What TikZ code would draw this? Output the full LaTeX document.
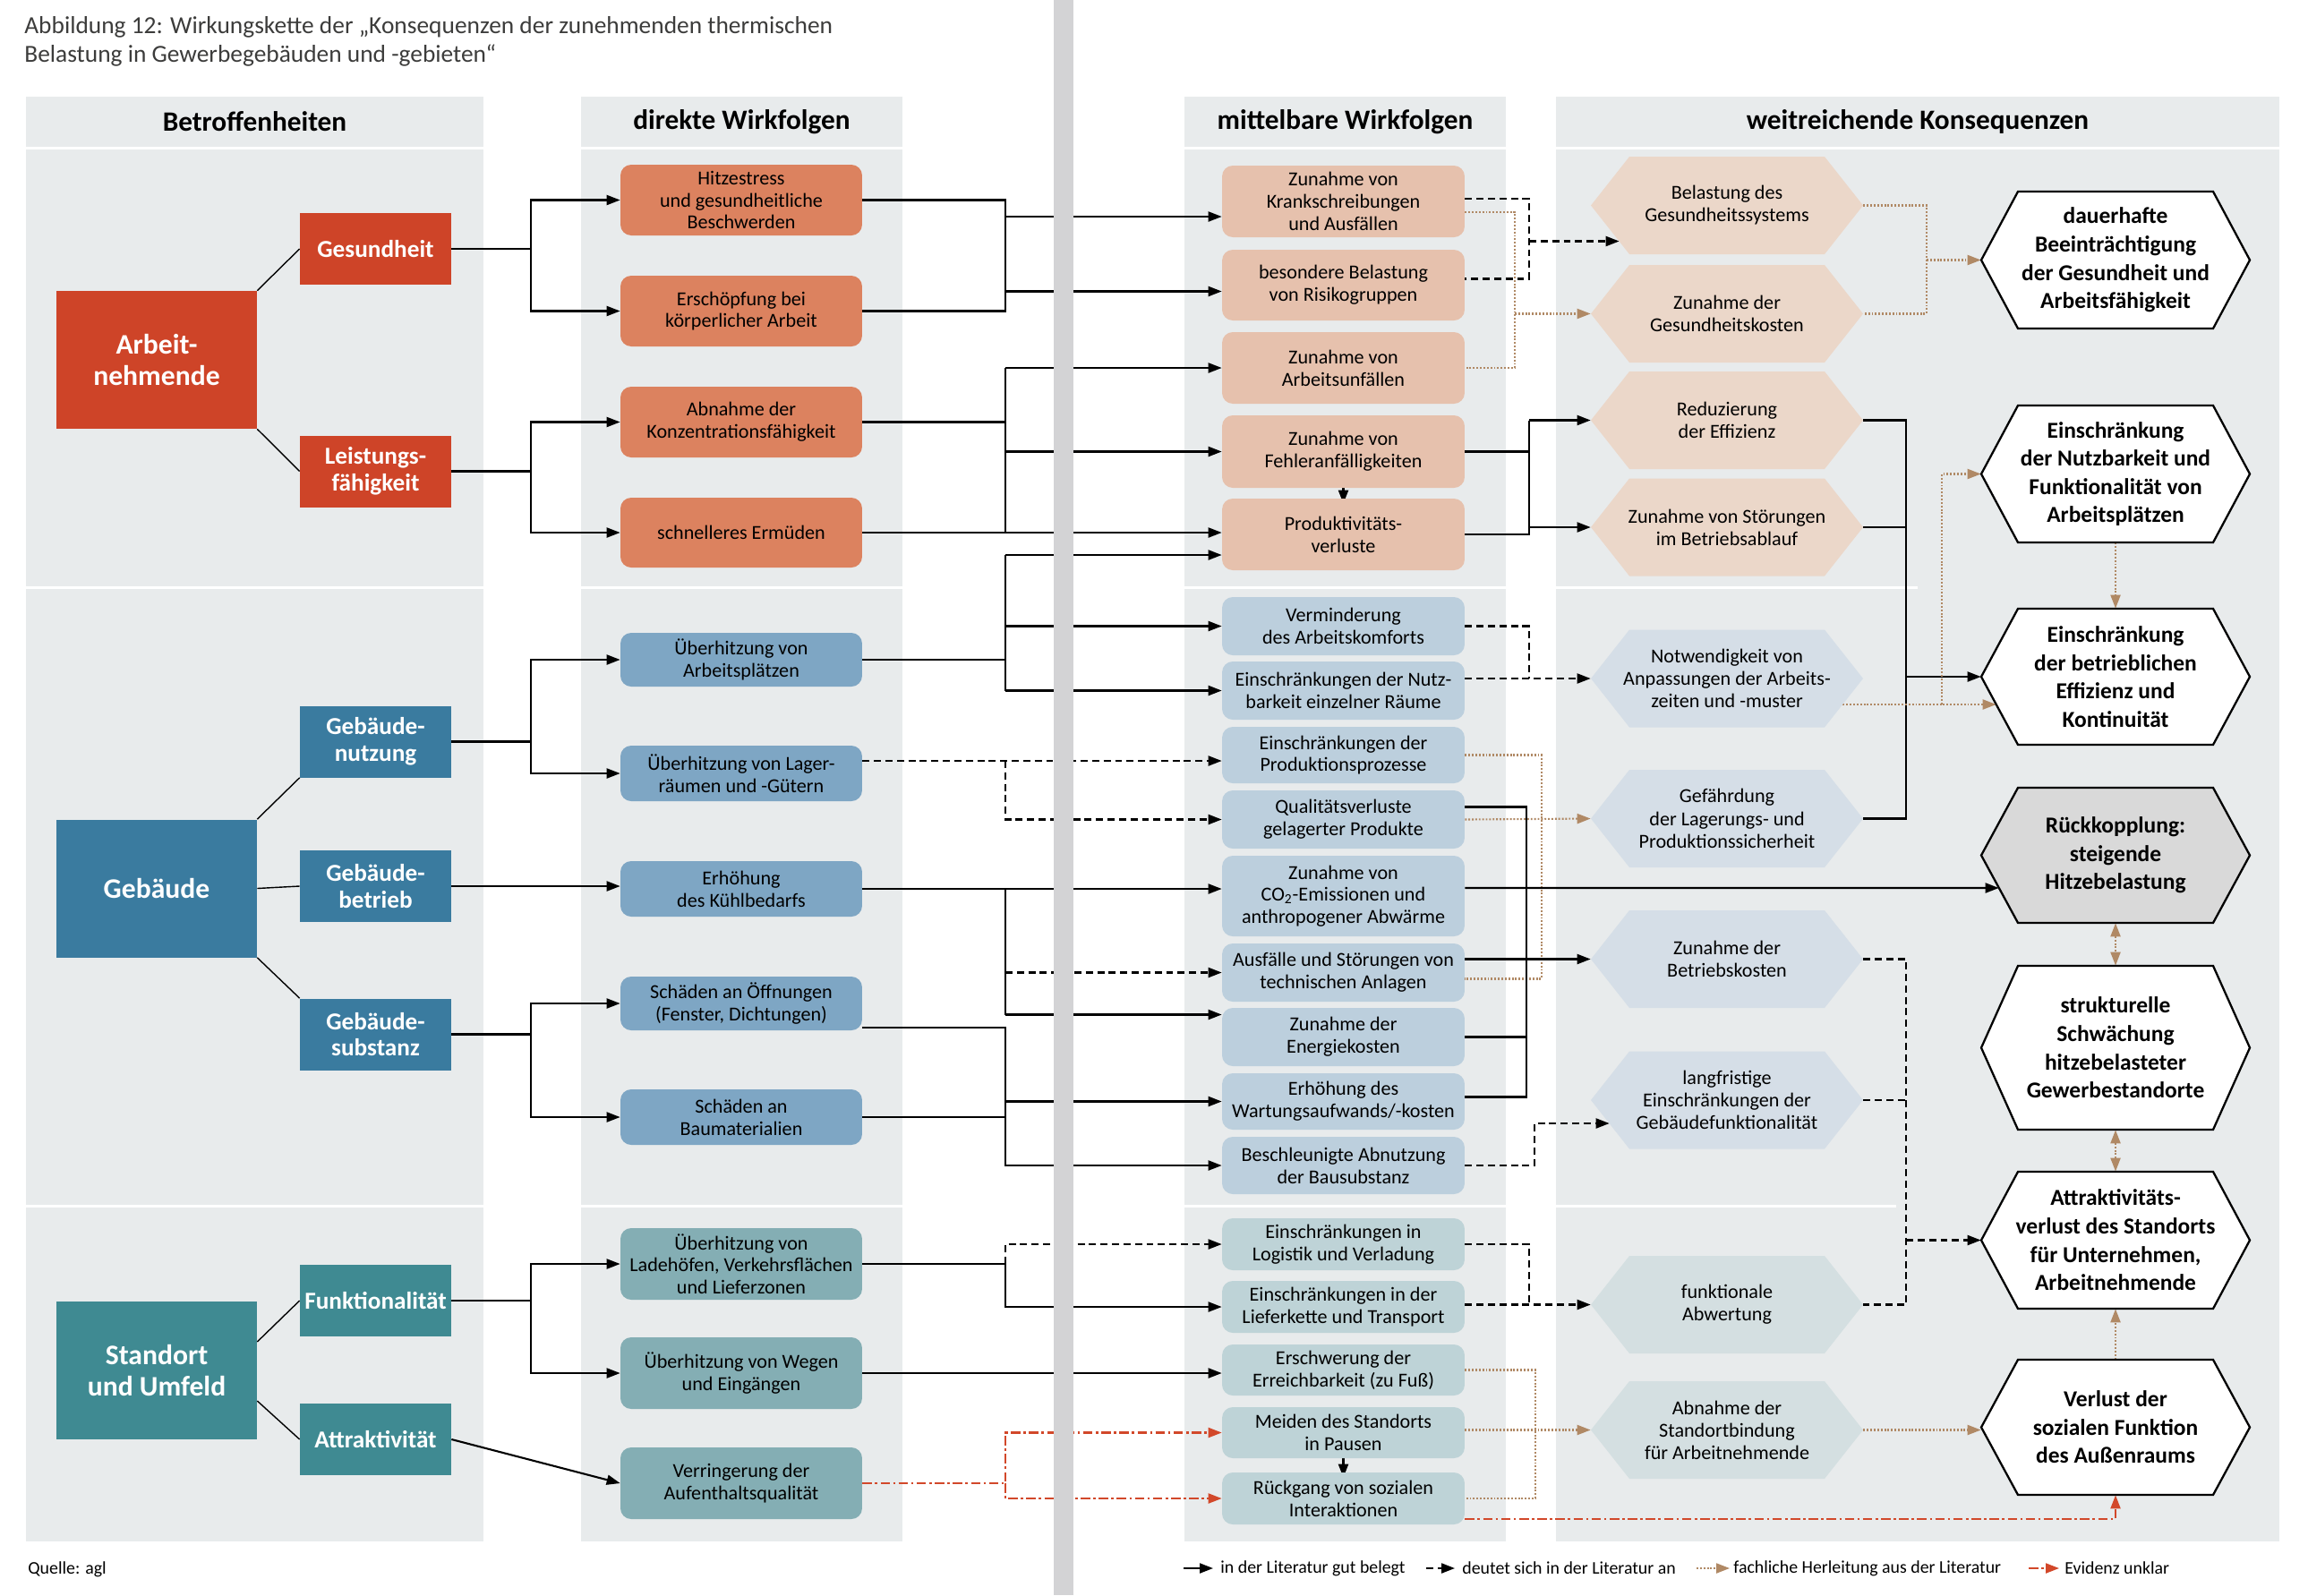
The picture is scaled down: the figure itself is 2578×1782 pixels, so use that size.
\documentclass[tikz,border=0pt]{standalone}
\usepackage{fontspec}
\setmainfont{Carlito}
\usetikzlibrary{arrows.meta}
\usetikzlibrary{positioning}
\usetikzlibrary{calc}

\definecolor{panelgray}{HTML}{E8EBEC}
\definecolor{bargray}{HTML}{D3D3D5}
\definecolor{titlegray}{HTML}{3C3C3B}
\definecolor{redA}{HTML}{CE4428}
\definecolor{redB}{HTML}{DC825F}
\definecolor{redC}{HTML}{E6C1AD}
\definecolor{redD}{HTML}{EBD7C9}
\definecolor{blueA}{HTML}{3A7B9F}
\definecolor{blueB}{HTML}{7EA6C4}
\definecolor{blueC}{HTML}{BCCFDD}
\definecolor{blueD}{HTML}{D5DEE7}
\definecolor{tealA}{HTML}{3F8A92}
\definecolor{tealB}{HTML}{84AEB4}
\definecolor{tealC}{HTML}{BED3D7}
\definecolor{tealD}{HTML}{D4DFE1}
\definecolor{loopgray}{HTML}{D9D9D9}
\definecolor{litbrown}{HTML}{B08965}
\definecolor{evidred}{HTML}{D2482A}

\pgfdeclarelayer{back}
\pgfdeclarelayer{lines}
\pgfdeclarelayer{front}
\pgfsetlayers{back,lines,main,front}

\tikzstyle{catbox}=[rectangle, text=white, font=\bfseries\fontsize{15.5}{17}\selectfont, align=center, inner sep=0pt, minimum width=3.38cm, minimum height=1.6cm]
\tikzstyle{bigbox}=[catbox, font=\bfseries\fontsize{18}{19.5}\selectfont, minimum width=4.48cm, minimum height=3.08cm]
\tikzstyle{effect}=[rectangle, rounded corners=0.24cm, align=center, inner sep=0pt, font=\fontsize{12.6}{14.1}\selectfont]
\tikzstyle{hextxt}=[rectangle, align=center, inner sep=0pt, font=\fontsize{12.6}{14.3}\selectfont]
\tikzstyle{bighextxt}=[hextxt, font=\bfseries\fontsize{14.5}{18}\selectfont]
\tikzstyle{colhead}=[font=\bfseries\fontsize{17.8}{20}\selectfont]
\tikzstyle{legtext}=[anchor=west, inner sep=0pt, font=\fontsize{11.3}{13}\selectfont]
\tikzstyle{twig}=[line width=0.8pt]
\tikzstyle{link}=[line width=1.2pt]
\tikzstyle{fwd}=[link, -{Triangle[length=0.3cm,width=0.22cm]}]
\tikzstyle{dashline}=[link, dash pattern=on 4.5pt off 2.8pt]
\tikzstyle{fwddash}=[fwd, dash pattern=on 4.5pt off 2.8pt]
\tikzstyle{hint}=[link, litbrown, dash pattern=on 1.1pt off 1.1pt]
\tikzstyle{hintarr}=[hint, -{Triangle[length=0.3cm,width=0.22cm]}]
\tikzstyle{hintboth}=[hint, {Triangle[length=0.3cm,width=0.22cm]}-{Triangle[length=0.3cm,width=0.22cm]}]
\tikzstyle{unclear}=[link, evidred, dash pattern=on 6pt off 2pt on 1.5pt off 2pt, -{Triangle[length=0.3cm,width=0.22cm]}]

% hexagon: path style, node style, x, y, width, height, inset, name, text
\newcommand{\hexa}[9]{%
  \path[#1] ({#3-#5/2},#4) -- ({#3-#5/2+#7},{#4-#6/2}) -- ({#3+#5/2-#7},{#4-#6/2})
     -- ({#3+#5/2},#4) -- ({#3+#5/2-#7},{#4+#6/2}) -- ({#3-#5/2+#7},{#4+#6/2}) -- cycle;
  \node[#2, minimum width=#5*0.02cm, minimum height=#6*0.02cm] (#8) at (#3,#4) {#9};}

\begin{document}
\begin{tikzpicture}[x=0.02cm, y=-0.02cm]
\useasboundingbox (0,0) rectangle (2578,1782);

\begin{pgfonlayer}{back}
\foreach \xa/\xb in {29/540, 649/1008, 1323/1682} {
  \fill[panelgray] (\xa,108) rectangle (\xb,164);
  \fill[panelgray] (\xa,167) rectangle (\xb,655);
  \fill[panelgray] (\xa,658) rectangle (\xb,1346);
  \fill[panelgray] (\xa,1349) rectangle (\xb,1722);
}
\fill[panelgray] (1738,108) rectangle (2546,164);
\fill[panelgray] (1738,167) rectangle (2546,1722);
\draw[white, line width=0.06cm] (1738,656.5) -- (2142,656.5);
\draw[white, line width=0.06cm] (1738,1347.5) -- (2118,1347.5);
\end{pgfonlayer}

\node[anchor=north west, align=left, inner sep=0pt, text=titlegray, font=\fontsize{15.6}{18}\selectfont] (title) at (27,18) {Abbildung 12: Wirkungskette der „Konsequenzen der zunehmenden thermischen\\Belastung in Gewerbegebäuden und -gebieten“};

\node[colhead] (head1) at (284.5,136) {Betroffenheiten};
\node[colhead] (head2) at (828.5,136) {direkte Wirkfolgen};
\node[colhead] (head3) at (1502.5,136) {mittelbare Wirkfolgen};
\node[colhead] (head4) at (2142,136) {weitreichende Konsequenzen};

% Betroffenheiten
\node[bigbox, fill=redA] (arbeit) at (175,402) {Arbeit-\\nehmende};
\node[catbox, fill=redA] (ges) at (419.5,278) {Gesundheit};
\node[catbox, fill=redA] (leist) at (419.5,526.5) {Leistungs-\\fähigkeit};
\node[bigbox, fill=blueA] (geb) at (175,992.5) {Gebäude};
\node[catbox, fill=blueA] (nutz) at (419.5,828.5) {Gebäude-\\nutzung};
\node[catbox, fill=blueA] (betr) at (419.5,990) {Gebäude-\\betrieb};
\node[catbox, fill=blueA] (subst) at (419.5,1155.5) {Gebäude-\\substanz};
\node[bigbox, fill=tealA] (stand) at (175,1531) {Standort\\und Umfeld};
\node[catbox, fill=tealA] (funk) at (419.5,1453) {Funktionalität};
\node[catbox, fill=tealA] (attr) at (419.5,1608) {Attraktivität};

% direkte Wirkfolgen
\foreach \y/\h/\name/\col/\txt in {
  {223.5/79/hitz/redB/{Hitzestress\\und gesundheitliche\\Beschwerden}},
  {347.5/79/ersch/redB/{Erschöpfung bei\\körperlicher Arbeit}},
  {471.5/79/abn/redB/{Abnahme der\\Konzentrationsfähigkeit}},
  {595/78/schn/redB/{schnelleres Ermüden}},
  {737/60/uea/blueB/{Überhitzung von\\Arbeitsplätzen}},
  {864/62/uel/blueB/{Überhitzung von Lager-\\räumen und -Gütern}},
  {993/62/kuehl/blueB/{Erhöhung\\des Kühlbedarfs}},
  {1121/60/oeff/blueB/{Schäden an Öffnungen\\(Fenster, Dichtungen)}},
  {1248/62/baum/blueB/{Schäden an\\Baumaterialien}},
  {1412/80/lade/tealB/{Überhitzung von\\Ladehöfen, Verkehrsflächen\\und Lieferzonen}},
  {1534/80/wege/tealB/{Überhitzung von Wegen\\und Eingängen}},
  {1657/80/verr/tealB/{Verringerung der\\Aufenthaltsqualität}}}
  \node[effect, fill=\col, minimum width=5.4cm, minimum height=\h*0.02cm] (\name) at (828,\y) {\txt};

% mittelbare Wirkfolgen
\foreach \y/\h/\name/\col/\txt in {
  {225/80/krank/redC/{Zunahme von\\Krankschreibungen\\und Ausfällen}},
  {318.5/79/risk/redC/{besondere Belastung\\von Risikogruppen}},
  {411/80/unf/redC/{Zunahme von\\Arbeitsunfällen}},
  {504.5/81/fehl/redC/{Zunahme von\\Fehleranfälligkeiten}},
  {597/80/prod/redC/{Produktivitäts-\\verluste}},
  {699.5/65/vermin/blueC/{Verminderung\\des Arbeitskomforts}},
  {771.5/65/nutzb/blueC/{Einschränkungen der Nutz-\\barkeit einzelner Räume}},
  {843.5/63/proz/blueC/{Einschränkungen der\\Produktionsprozesse}},
  {915.5/65/qual/blueC/{Qualitätsverluste\\gelagerter Produkte}},
  {1001/90/co2/blueC/{Zunahme von\\CO\textsubscript{2}-Emissionen und\\anthropogener Abwärme}},
  {1086.5/65/ausf/blueC/{Ausfälle und Störungen von\\technischen Anlagen}},
  {1158.5/65/energ/blueC/{Zunahme der\\Energiekosten}},
  {1230.5/63/wart/blueC/{Erhöhung des\\Wartungsaufwands/-kosten}},
  {1302/64/abnutz/blueC/{Beschleunigte Abnutzung\\der Bausubstanz}},
  {1390/58/logi/tealC/{Einschränkungen in\\Logistik und Verladung}},
  {1460/58/liefer/tealC/{Einschränkungen in der\\Lieferkette und Transport}},
  {1530.5/57/erschw/tealC/{Erschwerung der\\Erreichbarkeit (zu Fuß)}},
  {1600.5/57/meid/tealC/{Meiden des Standorts\\in Pausen}},
  {1674/58/rueck/tealC/{Rückgang von sozialen\\Interaktionen}}}
  \node[effect, fill=\col, minimum width=5.42cm, minimum height=\h*0.02cm] (\name) at (1500.5,\y) {\txt};

% weitreichende Konsequenzen
\foreach \y/\name/\col/\txt in {
  {229.5/hgs/redD/{Belastung des\\Gesundheitssystems}},
  {350.5/hgk/redD/{Zunahme der\\Gesundheitskosten}},
  {469.5/heff/redD/{Reduzierung\\der Effizienz}},
  {589/hstoer/redD/{Zunahme von Störungen\\im Betriebsablauf}},
  {758/hnotw/blueD/{Notwendigkeit von\\Anpassungen der Arbeits-\\zeiten und -muster}},
  {914.5/hgef/blueD/{Gefährdung\\der Lagerungs- und\\Produktionssicherheit}},
  {1071.5/hbk/blueD/{Zunahme der\\Betriebskosten}},
  {1229/hlang/blueD/{langfristige\\Einschränkungen der\\Gebäudefunktionalität}},
  {1457.5/hfunk/tealD/{funktionale\\Abwertung}},
  {1597.5/hstand/tealD/{Abnahme der\\Standortbindung\\für Arbeitnehmende}}}
  \hexa{fill=\col}{hextxt}{1929}{\y}{304}{109}{43}{\name}{\txt};

\foreach \y/\h/\name/\col/\txt in {
  {290.5/153/wdauer/white/{dauerhafte\\Beeinträchtigung\\der Gesundheit und\\Arbeitsfähigkeit}},
  {529.5/153/wnutz/white/{Einschränkung\\der Nutzbarkeit und\\Funktionalität von\\Arbeitsplätzen}},
  {756/152/weff/white/{Einschränkung\\der betrieblichen\\Effizienz und\\Kontinuität}},
  {955.5/151/wrueck/loopgray/{Rückkopplung:\\steigende\\Hitzebelastung}},
  {1170.5/183/wstruk/white/{strukturelle\\Schwächung\\hitzebelasteter\\Gewerbestandorte}},
  {1385.5/153/wattr/white/{Attraktivitäts-\\verlust des Standorts\\für Unternehmen,\\Arbeitnehmende}},
  {1594.5/151/wverl/white/{Verlust der\\sozialen Funktion\\des Außenraums}}}
  \hexa{fill=\col, draw=black, line width=1.3pt}{bighextxt}{2363}{\y}{300}{\h}{41}{\name}{\txt};

\coordinate (bl) at (593,0);
\coordinate (bm) at (1123,0);
\coordinate (bd) at (1692,0);
\coordinate (bs) at (1705,0);
\coordinate (bx) at (1708,0);
\coordinate (bb) at (1714,0);
\coordinate (bt) at (1715,0);
\coordinate (bp) at (1722,0);
\coordinate (bz) at (2129,0);
\coordinate (bq) at (2152,0);
\coordinate (bn) at (2169,0);

\begin{pgfonlayer}{lines}
\draw[twig] (arbeit.north east) -- (ges.west);
\draw[twig] (arbeit.south east) -- (leist.west);
\draw[twig] (geb.north east) -- (nutz.south west);
\draw[twig] (geb.east) -- (betr.west);
\draw[twig] (geb.south east) -- (subst.north west);
\draw[twig] ($(stand.east)+(0,-32)$) -- (funk.west);
\draw[twig] ($(stand.east)+(0,34)$) -- (attr.west);

\foreach \src/\dst in {ges/hitz, ges/ersch, leist/abn, leist/schn, nutz/uea, nutz/uel, subst/oeff, subst/baum, funk/lade, funk/wege}
  \draw[fwd] (\src.east) -- (\src.east -| bl) |- (\dst.west);
\draw[fwd] (betr.east) -- (kuehl.west |- betr.east);
\draw[fwd] (attr.east) -- (verr.west);

% direkte -> mittelbare
\coordinate (k0) at ($(krank.west)+(0,17)$);
\coordinate (r0) at ($(risk.west)+(0,7)$);
\draw[link] (hitz.east) -- (hitz.east -| bm) |- (ersch.east);
\draw[fwd] (k0 -| bm) -- (k0);
\draw[fwd] (r0 -| bm) -- (r0);
\draw[link] (abn.east) -- (abn.east -| bm);
\draw[link] (unf.west -| bm) -- (schn.east -| bm);
\foreach \dst in {unf, fehl}
  \draw[fwd] (\dst.west -| bm) -- (\dst.west);
\draw[fwd] (schn.east) -- (prod.west |- schn.east);
\coordinate (p0) at ($(prod.west)+(0,23)$);
\draw[link] (uea.east) -- (uea.east -| bm);
\draw[link] (p0 -| bm) -- (nutzb.west -| bm);
\draw[fwd] (p0 -| bm) -- (p0);
\foreach \dst in {vermin, nutzb}
  \draw[fwd] (\dst.west -| bm) -- (\dst.west);
\coordinate (l0) at ($(uel.east)+(0,-14)$);
\draw[fwddash] (l0) -- (proz.west |- l0);
\draw[fwddash] (l0 -| bm) |- (qual.west);
\draw[fwd] (kuehl.east) -- (co2.west |- kuehl.east);
\coordinate (e0) at ($(energ.west)+(0,-25)$);
\draw[link] (kuehl.east -| bm) -- (e0 -| bm);
\draw[fwd] (e0 -| bm) -- (e0);
\draw[fwddash] (ausf.west -| bm) -- (ausf.west);
\coordinate (o0) at ($(oeff.east)+(0,27)$);
\draw[fwd] (o0) -- (o0 -| bm) |- (abnutz.west);
\draw[link] (baum.east) -- (baum.east -| bm);
\draw[fwd] (wart.west -| bm) -- (wart.west);
\draw[fwd] (lade.east) -- (lade.east -| bm) |- (liefer.west);
\draw[fwddash] (lade.east -| bm) |- (logi.west);
\draw[fwd] (wege.east) -- (erschw.west |- wege.east);
\draw[unclear] (verr.east) -- (verr.east -| bm) |- (meid.west);
\draw[unclear] (verr.east -| bm) |- (rueck.west);
\draw[fwd] (fehl.south) -- ($(prod.north)+(0,6)$);
\draw[fwd] (meid.south) -- ($(rueck.north)+(0,6)$);

% mittelbare -> weitreichende
\coordinate (k1) at ($(krank.east)+(0,-3)$);
\coordinate (r1) at ($(risk.east)+(0,-7)$);
\coordinate (g1) at ($(hgs.west)+(32,40)$);
\draw[dashline] (k1) -- (k1 -| bx) -- (r1 -| bx) -- (r1);
\draw[fwddash] (g1 -| bx) -- (g1);
\coordinate (k2) at ($(krank.east)+(0,12)$);
\draw[hint] (k2) -- (k2 -| bd) -- (unf.east -| bd) -- (unf.east);
\draw[hintarr] (hgk.west -| bd) -- (hgk.west);
\draw[hint] (hgs.east) -- (hgs.east -| bq) -- (hgk.east -| bq) -- (hgk.east);
\draw[hintarr] (wdauer.west -| bq) -- (wdauer.west);
\draw[link] (fehl.east) -- (fehl.east -| bx);
\draw[link] (prod.east) -- (prod.east -| bx) -- (heff.west -| bx);
\foreach \dst in {heff, hstoer}
  \draw[fwd] (\dst.west -| bx) -- (\dst.west);
\draw[link] (heff.east) -- (heff.east -| bz) -- (hgef.east -| bz) -- (hgef.east);
\draw[link] (hstoer.east) -- (hstoer.east -| bz);
\draw[fwd] (weff.west -| bz) -- (weff.west);
\draw[hintarr] (wnutz.south) -- (weff.north);
\coordinate (n1) at ($(hnotw.east)+(-23,29)$);
\coordinate (n2) at ($(weff.west)+(17,31)$);
\draw[hintarr] (n1) -- (n2);
\draw[hintarr] (n1 -| bn) |- (wnutz.west);

\draw[dashline] (vermin.east) -- (vermin.east -| bx) -- (hnotw.west -| bx);
\draw[fwddash] (nutzb.east |- hnotw.west) -- (hnotw.west);
\coordinate (a3) at ($(ausf.east)+(0,7)$);
\draw[hint] (proz.east) -- (proz.east -| bp) -- (a3 -| bp) -- (a3);
\draw[hintarr] (qual.east) -- (hgef.west);
\coordinate (q1) at ($(qual.east)+(0,-14)$);
\coordinate (w1) at ($(wart.east)+(0,-5)$);
\coordinate (a1) at ($(ausf.east)+(0,-15)$);
\draw[link] (q1) -- (q1 -| bs) -- (w1 -| bs) -- (w1);
\draw[link] (energ.east) -- (energ.east -| bs);
\draw[fwd] (a1) -- (hbk.west);
\coordinate (c1) at ($(co2.east)+(0,-9)$);
\coordinate (c2) at ($(wrueck.west)+(20,36.5)$);
\draw[fwd] (c1) -- (c2);
\coordinate (l1) at ($(hlang.west)+(21,26)$);
\draw[fwddash] (abnutz.east) -- (abnutz.east -| bb) |- (l1);
\draw[dashline] (hbk.east) -- (hbk.east -| bz) -- (hfunk.east -| bz) -- (hfunk.east);
\draw[dashline] (hlang.east) -- (hlang.east -| bz);
\draw[fwddash] (wattr.west -| bz) -- (wattr.west);
\draw[hintboth] (wrueck.south) -- (wstruk.north);
\draw[hintboth] (wstruk.south) -- (wattr.north);
\draw[hintarr] (wverl.north) -- (wattr.south);

\draw[dashline] (logi.east) -- (logi.east -| bx) -- (hfunk.west -| bx);
\draw[fwddash] (liefer.east |- hfunk.west) -- (hfunk.west);
\draw[hint] (erschw.east) -- (erschw.east -| bt) -- (rueck.east -| bt) -- (rueck.east);
\draw[hintarr] (meid.east |- hstand.west) -- (hstand.west);
\draw[hintarr] (hstand.east) -- (wverl.west |- hstand.east);
\coordinate (r2) at ($(rueck.east)+(0,23)$);
\draw[unclear] (r2) -| (wverl.south);
\end{pgfonlayer}

\begin{pgfonlayer}{front}
\fill[bargray] (1177,0) rectangle (1199,1782);
\end{pgfonlayer}

% legend
\node[legtext] (source) at (31,1753) {Quelle: agl};
\node[legtext] (leg1) at (1363,1752) {in der Literatur gut belegt};
\node[legtext] (leg2) at (1633,1752) {deutet sich in der Literatur an};
\node[legtext] (leg3) at (1936,1752) {fachliche Herleitung aus der Literatur};
\node[legtext] (leg4) at (2306,1752) {Evidenz unklar};
\draw[fwd] ($(leg1.west)+(-41,0)$) -- ($(leg1.west)+(-8,0)$);
\draw[fwddash] ($(leg2.west)+(-40,0)$) -- ($(leg2.west)+(-8,0)$);
\draw[hintarr] ($(leg3.west)+(-41,0)$) -- ($(leg3.west)+(-4,0)$);
\draw[unclear] ($(leg4.west)+(-40,0)$) -- ($(leg4.west)+(-6,0)$);

\end{tikzpicture}
\end{document}
